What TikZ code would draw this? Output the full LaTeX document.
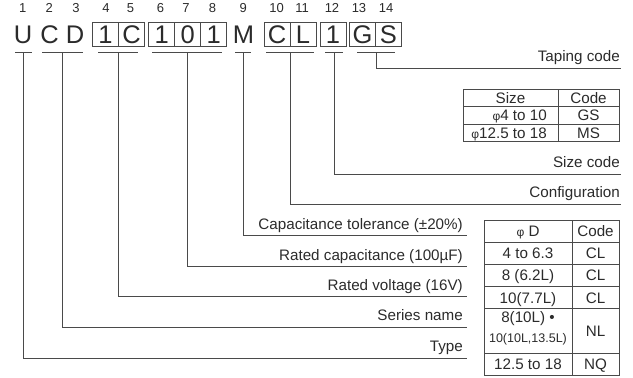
\documentclass[tikz,border=0pt]{standalone}
\usepackage{fontspec}
\setmainfont{Liberation Sans}
\definecolor{ink}{HTML}{2B2B2B}
\definecolor{rulec}{HTML}{4A4A4A}
\newcommand\myphi{{\fontsize{12}{14}\selectfont φ}}
\begin{document}
\begin{tikzpicture}[x=1pt,y=-1pt,
  rl/.style={draw=rulec, line width=0.9pt},
  big/.style={font=\fontsize{25.5}{28}\selectfont, text=ink, inner sep=0pt, minimum width=26pt, minimum height=24pt},
  cell/.style={big, draw=rulec, line width=0.9pt},
  num/.style={font=\fontsize{13}{15}\selectfont, text=ink, inner sep=0pt, anchor=base},
  lbl/.style={font=\fontsize{15.2}{17}\selectfont, text=ink, inner sep=0pt, anchor=base east},
  tb/.style={font=\fontsize{15.2}{17}\selectfont, text=ink, inner sep=0pt, anchor=base},
  tbr/.style={tb, anchor=base east},
  sm/.style={font=\fontsize{12.5}{14}\selectfont, text=ink, inner sep=0pt, anchor=base}
]
\useasboundingbox (0,0) rectangle (633,378);

% position numbers
\node[num] (n1) at (22.7,12) {1};
\node[num] (n2) at (49.3,12) {2};
\node[num] (n3) at (76,12) {3};
\node[num] (n4) at (106,12) {4};
\node[num] (n5) at (130.5,12) {5};
\node[num] (n6) at (160.5,12) {6};
\node[num] (n7) at (186,12) {7};
\node[num] (n8) at (212.5,12) {8};
\node[num] (n9) at (243.3,12) {9};
\node[num] (n10) at (276.7,12) {10};
\node[num] (n11) at (302,12) {11};
\node[num] (n12) at (332,12) {12};
\node[num] (n13) at (359,12) {13};
\node[num] (n14) at (386,12) {14};

% code characters
\node[big] (l1) at (23,34.7) {U};
\node[big] (l2) at (49.5,34.7) {C};
\node[big] (l3) at (75,34.7) {D};
\node[cell] (l4) at (105.5,34.7) {1};
\node[cell] (l5) at (131.5,34.7) {C};
\node[cell] (l6) at (161.8,34.7) {1};
\node[cell] (l7) at (187.8,34.7) {0};
\node[cell] (l8) at (213.8,34.7) {1};
\node[big] (l9) at (243.5,34.7) {M};
\node[cell] (l10) at (277,34.7) {C};
\node[cell] (l11) at (303,34.7) {L};
\node[cell] (l12) at (333,34.7) {1};
\node[cell] (l13) at (362.5,34.7) {G};
\node[cell] (l14) at (388.5,34.7) {S};

% underlines
\draw[rl] (15,52.3) -- (32,52.3);
\draw[rl] (42,52.3) -- (83,52.3);
\draw[rl] (98,52.3) -- (138,52.3);
\draw[rl] (152,52.3) -- (222,52.3);
\draw[rl] (235,52.3) -- (251,52.3);
\draw[rl] (266,52.3) -- (314,52.3);
\draw[rl] (325,52.3) -- (343,52.3);
\draw[rl] (357,52.3) -- (395,52.3);

% connector origins
\coordinate (s1) at (23.3,52.3);
\coordinate (s2) at (62.7,52.3);
\coordinate (s3) at (118,52.3);
\coordinate (s4) at (187,52.3);
\coordinate (s5) at (243,52.3);
\coordinate (s6) at (290,52.3);
\coordinate (s7) at (334,52.3);
\coordinate (s8) at (376,52.3);

% connector ends
\coordinate (e8) at (621,68.3);
\coordinate (e7) at (621,174);
\coordinate (e6) at (621,204.7);
\coordinate (e5) at (467,235.4);
\coordinate (e4) at (467,266.1);
\coordinate (e3) at (467,296.8);
\coordinate (e2) at (467,327.5);
\coordinate (e1) at (467,358.2);

\draw[rl] (s8) |- (e8);
\draw[rl] (s7) |- (e7);
\draw[rl] (s6) |- (e6);
\draw[rl] (s5) |- (e5);
\draw[rl] (s4) |- (e4);
\draw[rl] (s3) |- (e3);
\draw[rl] (s2) |- (e2);
\draw[rl] (s1) |- (e1);

% labels
\node[lbl] (t8) at (620,61.5) {Taping code};
\node[lbl] (t7) at (620,167.2) {Size code};
\node[lbl] (t6) at (620,197.9) {Configuration};
\node[lbl] (t5) at (463,229.5) {Capacitance tolerance (±20\%)};
\node[lbl] (t4) at (463,260.2) {Rated capacitance (100µF)};
\node[lbl] (t3) at (463,290.2) {Rated voltage (16V)};
\node[lbl] (t2) at (463,320.9) {Series name};
\node[lbl] (t1) at (463,351.6) {Type};

% table 1 : taping code
\draw[rl] (463,89.5) rectangle (619,141.6);
\draw[rl] (558,89.5) -- (558,141.6);
\draw[rl] (463,106.9) -- (619,106.9);
\draw[rl] (463,124.2) -- (619,124.2);
\node[tb] (a1) at (510.5,103.6) {Size};
\node[tb] (a2) at (588.5,103.6) {Code};
\node[tbr] (a3) at (547,120.9) {\myphi4 to 10};
\node[tb] (a4) at (588.5,120.9) {GS};
\node[tbr] (a5) at (547,138.3) {\myphi12.5 to 18};
\node[tb] (a6) at (588.5,138.3) {MS};

% table 2 : configuration
\draw[rl] (484,220) rectangle (619,375.4);
\draw[rl] (572,220) -- (572,375.4);
\draw[rl] (484,242.2) -- (619,242.2);
\draw[rl] (484,264.4) -- (619,264.4);
\draw[rl] (484,286.6) -- (619,286.6);
\draw[rl] (484,308.8) -- (619,308.8);
\draw[rl] (484,353.2) -- (619,353.2);
\node[tb] (b1) at (528,236.4) {\myphi{} D};
\node[tb] (b2) at (595.5,236.4) {Code};
\node[tb] (b3) at (528,258.6) {4 to 6.3};
\node[tb] (b4) at (595.5,258.6) {CL};
\node[tb] (b5) at (528,280.8) {8 (6.2L)};
\node[tb] (b6) at (595.5,280.8) {CL};
\node[tb] (b7) at (528,303) {10(7.7L)};
\node[tb] (b8) at (595.5,303) {CL};
\node[tb] (b9) at (528,322.8) {8(10L) •};
\node[sm] (b10) at (528,342) {10(10L,13.5L)};
\node[tb] (b11) at (595.5,336.3) {NL};
\node[tb] (b12) at (528,369.6) {12.5 to 18};
\node[tb] (b13) at (595.5,369.6) {NQ};
\end{tikzpicture}
\end{document}
